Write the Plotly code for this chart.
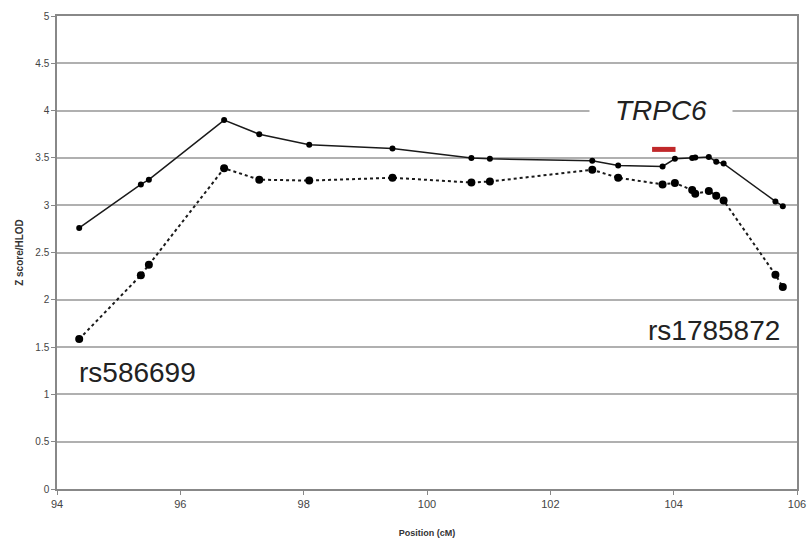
import plotly.graph_objects as go

# Data
positions = [94.36, 95.36, 95.49, 96.71, 97.28, 98.09, 99.44, 100.72, 101.02,
             102.68, 103.10, 103.82, 104.02, 104.30, 104.35, 104.57, 104.69,
             104.81, 105.65, 105.77]
z_score = [2.76, 3.22, 3.27, 3.90, 3.75, 3.64, 3.60, 3.50, 3.49,
           3.47, 3.42, 3.41, 3.49, 3.50, 3.505, 3.51, 3.46,
           3.44, 3.04, 2.99]
hlod = [1.585, 2.26, 2.37, 3.39, 3.27, 3.26, 3.29, 3.24, 3.25,
        3.375, 3.29, 3.22, 3.235, 3.16, 3.12, 3.15, 3.10,
        3.05, 2.265, 2.135]
gene_span = [103.65, 104.03]
gene_level = 3.59
gene_name = "TRPC6"
snp_labels = [("rs586699", 94.33, 1.23), ("rs1785872", 103.55, 1.68)]
x_ticks = [94, 96, 98, 100, 102, 104, 106]
y_ticks = [0, 0.5, 1, 1.5, 2, 2.5, 3, 3.5, 4, 4.5, 5]

fig = go.Figure()
fig.add_trace(go.Scatter(
    x=positions, y=z_score, mode="lines+markers",
    line=dict(color="#1a1a1a", width=1.5),
    marker=dict(color="#000000", size=6), showlegend=False))
fig.add_trace(go.Scatter(
    x=positions, y=hlod, mode="lines+markers",
    line=dict(color="#1a1a1a", width=2, dash="dot"),
    marker=dict(color="#000000", size=8), showlegend=False))
fig.add_trace(go.Scatter(
    x=gene_span, y=[gene_level, gene_level], mode="lines",
    line=dict(color="#c0282a", width=5), showlegend=False))

fig.add_annotation(x=103.8, y=4.0, text="<i>" + gene_name + "</i>", showarrow=False,
                   font=dict(size=28, color="#222222", family="Liberation Sans, Arial"),
                   bgcolor="white", xanchor="center", yanchor="middle",
                   width=130, borderpad=6)
for label, lx, ly in snp_labels:
    fig.add_annotation(x=lx, y=ly, text=label, showarrow=False,
                       font=dict(size=28, color="#222222", family="Liberation Sans, Arial"),
                       xanchor="left", yanchor="middle")

fig.update_layout(
    width=808, height=543,
    margin=dict(l=57, r=11, t=16, b=54),
    paper_bgcolor="white", plot_bgcolor="white",
    font=dict(family="Liberation Sans, Arial", color="#444444"),
    xaxis=dict(range=[94, 106], tickvals=x_ticks, showgrid=False, zeroline=False,
               automargin=False,
               showline=True, linecolor="#888888", linewidth=1.5, mirror=True,
               ticks="outside", ticklen=4, tickcolor="#888888",
               tickfont=dict(size=11, color="#444444"),
               title=dict(text="<b>Position (cM)</b>", font=dict(size=9, color="#333333"), standoff=21)),
    yaxis=dict(range=[0, 5], tickvals=y_ticks, showgrid=True, gridcolor="#b0b0b0", gridwidth=1.5,
               automargin=False,
               zeroline=False, showline=True, linecolor="#888888", linewidth=1.5, mirror=True,
               ticks="outside", ticklen=4, tickcolor="#888888",
               tickfont=dict(size=10, color="#444444"),
               title=dict(text="<b>Z score/HLOD</b>", font=dict(size=10, color="#333333"), standoff=10)),
)

fig.write_html("out.html", config={"displayModeBar": False},
               post_script="document.body.style.margin='0';document.body.style.overflow='hidden';")
